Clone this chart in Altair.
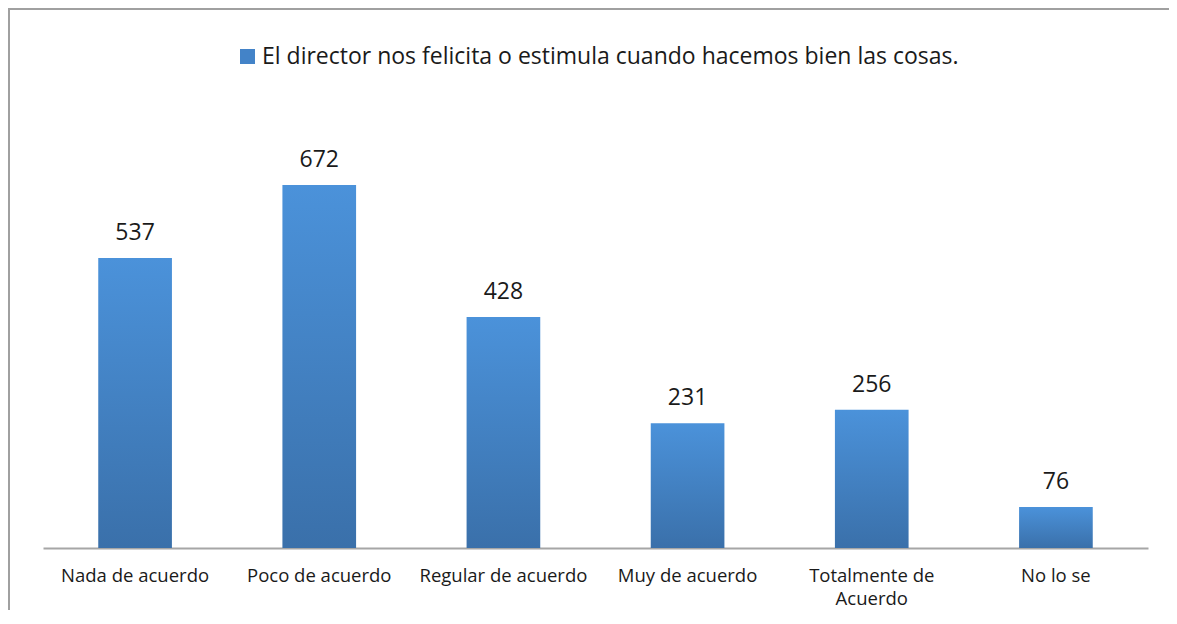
import altair as alt
import pandas as pd

categories = ["Nada de acuerdo", "Poco de acuerdo", "Regular de acuerdo",
              "Muy de acuerdo", "Totalmente de Acuerdo", "No lo se"]
values = [537, 672, 428, 231, 256, 76]
series_name = "El director nos felicita o estimula cuando hacemos bien las cosas."

df = pd.DataFrame({"cat": categories, "val": values, "serie": [series_name] * len(values)})

FONT = "Open Sans"
W, H = 1105, 432

gradient = alt.LinearGradient(
    gradient="linear", x1=0, y1=0, x2=0, y2=1,
    stops=[alt.GradientStop(color="#4b92da", offset=0),
           alt.GradientStop(color="#3a70aa", offset=1)],
)

x_enc = alt.X(
    "cat:N", sort=categories, title=None,
    scale=alt.Scale(paddingInner=0.6, paddingOuter=0.3),
    axis=alt.Axis(
        labelAngle=0, ticks=False, domainColor="#a6a6a6", domainWidth=2,
        labelFont=FONT, labelFontSize=18.5, labelColor="#1a1a1a", labelPadding=18,
        labelLineHeight=23, labelBaseline="top",
        labelExpr="datum.label == 'Totalmente de Acuerdo' ? ['Totalmente de', 'Acuerdo'] : datum.label",
    ),
)
y_enc = alt.Y("val:Q", scale=alt.Scale(domain=[0, 800]), axis=None, title=None)

base = alt.Chart(df)

bars = base.mark_bar(color=gradient).encode(x=x_enc, y=y_enc)

labels = base.mark_text(
    font=FONT, fontSize=23, color="#1a1a1a", baseline="alphabetic", dy=-18
).encode(x=x_enc, y=y_enc, text="val:Q")

legend_layer = base.mark_square(opacity=0, size=1).encode(
    x=x_enc, y=y_enc,
    color=alt.Color(
        "serie:N",
        scale=alt.Scale(range=["#4383c8"]),
        legend=alt.Legend(
            title=None, orient="none", legendX=193, legendY=-71,
            symbolType="square", symbolSize=225, symbolOpacity=1,
            symbolStrokeWidth=0, labelFont=FONT, labelFontSize=23,
            labelColor="#1a1a1a", labelLimit=1000, labelOffset=3,
        ),
    ),
)

one = pd.DataFrame({"a": [0]})
left_border = alt.Chart(one).mark_rule(color="#a0a0a0", strokeWidth=2).encode(
    x=alt.value(-34), y=alt.value(-107), y2=alt.value(H + 70)
)
top_border = alt.Chart(one).mark_rule(color="#a0a0a0", strokeWidth=2).encode(
    x=alt.value(-35), x2=alt.value(W + 40), y=alt.value(-107)
)

chart = alt.layer(bars, labels, legend_layer, left_border, top_border).properties(
    width=W, height=H,
    autosize=alt.AutoSizeParams(type="none"),
    padding={"left": 35, "top": 108, "right": 21, "bottom": 62},
).configure(background="white").configure_view(stroke=None, strokeWidth=0)

chart.save("out.html", embed_options={"renderer": "svg", "actions": False})
